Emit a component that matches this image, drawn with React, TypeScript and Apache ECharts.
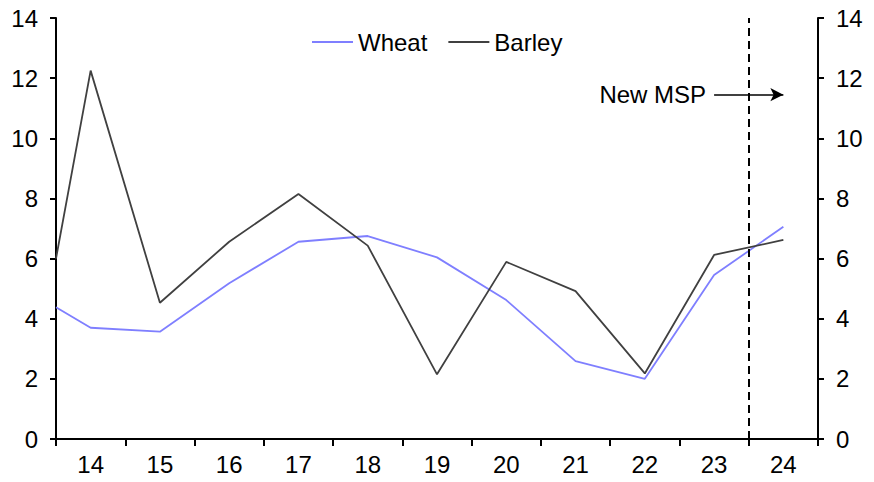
import React, { useEffect, useRef } from "react";
import * as echarts from "echarts";

const yearLabels = ["14", "15", "16", "17", "18", "19", "20", "21", "22", "23", "24"];
// x positions (year values); 13.5 is the left edge of the plot where the lines enter
const xPositions = [13.5, 14, 15, 16, 17, 18, 19, 20, 21, 22, 23, 24];
const wheatValues = [4.38, 3.7, 3.57, 5.18, 6.56, 6.75, 6.04, 4.62, 2.59, 2.0, 5.45, 7.06];
const barleyValues = [6.0, 12.25, 4.53, 6.56, 8.15, 6.43, 2.15, 5.89, 4.92, 2.18, 6.12, 6.62];
const yTicks = { min: 0, max: 14, interval: 2 };
const msp = { line: 23.5, arrowFrom: [23.0, 11.45], arrowTo: [24.0, 11.45], label: "New MSP" };

const FONT = "Liberation Sans, Arial, sans-serif";

export default function App() {
  const ref = useRef<HTMLDivElement>(null);
  useEffect(() => {
    if (!ref.current) return;
    const chart = echarts.init(ref.current, null, { renderer: "svg" });
    const wheat = xPositions.map((x, i) => [x, wheatValues[i]]);
    const barley = xPositions.map((x, i) => [x, barleyValues[i]]);
    const axisLine = { show: true, lineStyle: { color: "#000", width: 2 } };
    chart.setOption({
      animation: false,
      backgroundColor: "#fff",
      textStyle: { fontFamily: FONT },
      grid: { left: 56, right: 56, top: 18, bottom: 43, containLabel: false },
      legend: {
        left: 307,
        top: 25,
        icon: "rect",
        itemWidth: 41,
        itemHeight: 2,
        itemGap: 21,
        textStyle: { fontSize: 24, color: "#000", fontFamily: FONT },
        data: ["Wheat", "Barley"],
      },
      xAxis: [
        {
          type: "category",
          data: yearLabels,
          boundaryGap: true,
          axisLine,
          axisTick: { show: true, length: 7, lineStyle: { color: "#000", width: 2 } },
          axisLabel: { fontSize: 24, color: "#000", margin: 13, fontFamily: FONT },
          splitLine: { show: false },
        },
        {
          type: "value",
          min: 13.5,
          max: 24.5,
          show: false,
          splitLine: { show: false },
        },
      ],
      yAxis: [
        {
          type: "value",
          position: "left",
          ...yTicks,
          axisLine,
          axisTick: { show: true, length: 6, lineStyle: { color: "#000", width: 2 } },
          axisLabel: { fontSize: 24, color: "#000", margin: 18, fontFamily: FONT },
          splitLine: { show: false },
        },
        {
          type: "value",
          position: "right",
          ...yTicks,
          axisLine,
          axisTick: { show: true, length: 6, lineStyle: { color: "#000", width: 2 } },
          axisLabel: { fontSize: 24, color: "#000", margin: 18, fontFamily: FONT },
          splitLine: { show: false },
        },
      ],
      series: [
        {
          name: "Wheat",
          type: "line",
          xAxisIndex: 1,
          yAxisIndex: 0,
          data: wheat,
          symbol: "none",
          showSymbol: false,
          color: "#7f7fff",
          itemStyle: { color: "#7f7fff" },
          lineStyle: { color: "#7f7fff", width: 1.8 },
          markLine: {
            silent: true,
            symbol: ["none", "none"],
            label: { show: false },
            lineStyle: { color: "#000", width: 2, type: [8, 5] },
            data: [{ xAxis: msp.line }],
          },
        },
        {
          name: "Barley",
          type: "line",
          xAxisIndex: 1,
          yAxisIndex: 0,
          data: barley,
          symbol: "none",
          showSymbol: false,
          color: "#404040",
          itemStyle: { color: "#404040" },
          lineStyle: { color: "#404040", width: 1.8 },
          markLine: {
            silent: true,
            symbol: ["none", "arrow"],
            symbolSize: [10, 13],
            lineStyle: { color: "#000", width: 1.5, type: "solid" },
            label: {
              show: true,
              position: "start",
              formatter: msp.label,
              fontSize: 24,
              color: "#000",
              fontFamily: FONT,
              distance: 8,
            },
            data: [[{ coord: msp.arrowFrom }, { coord: msp.arrowTo }]],
          },
        },
      ],
    });
    return () => chart.dispose();
  }, []);
  return (
    <div
      ref={ref}
      style={{ position: "fixed", left: 0, top: 0, width: 874, height: 482, background: "#fff" }}
    />
  );
}
